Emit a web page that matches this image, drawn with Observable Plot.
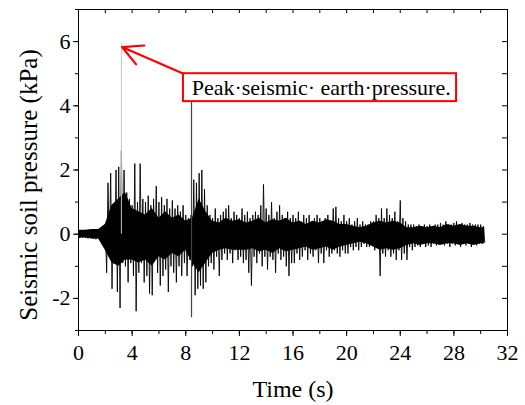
<!DOCTYPE html>
<html><head><meta charset="utf-8">
<script src="https://cdn.jsdelivr.net/npm/d3@7"></script>
<script src="https://cdn.jsdelivr.net/npm/@observablehq/plot@0.6"></script>
<style>html,body{margin:0;padding:0;background:#fff;}</style>
</head><body><div id="chart"></div>
<script>
// Seismic soil pressure record (kPa), sampled every 0.1 s from t = 0 s
const sampleInterval = 0.1;
const pressure = [
  0.10,-0.12,0.08,-0.10,0.12,-0.11,0.09,-0.13,0.11,-0.10,
  0.14,-0.15,0.12,-0.16,0.15,-0.14,0.17,-0.15,0.16,-0.18,
  0.30,-1.20,1.60,-0.60,1.90,-1.70,0.90,-0.80,2.00,-1.80,
  2.10,-2.30,2.60,-0.90,2.00,-1.00,1.30,-1.50,1.10,-0.90,
  0.90,-1.30,2.20,-2.40,1.00,-1.20,2.20,-0.90,1.10,-1.50,
  1.00,-1.30,1.20,-1.85,0.90,-1.90,1.10,-0.80,1.50,-1.20,
  1.00,-1.60,1.15,-1.30,0.90,-1.10,1.10,-1.80,0.80,-1.00,
  1.05,-1.20,0.80,-1.50,0.90,-1.00,0.70,-1.30,0.90,-0.90,
  0.60,-1.30,0.50,-0.80,0.60,-1.00,1.70,-1.90,1.60,-1.70,
  1.90,-1.60,2.00,-1.70,1.40,-1.50,0.90,-1.00,0.60,-0.90,
  0.50,-1.10,0.80,-0.70,0.50,-1.30,0.60,-0.80,0.70,-0.60,
  0.80,-0.80,0.90,-0.60,0.50,-0.90,0.70,-0.50,0.60,-0.80,
  0.50,-0.70,0.80,-0.90,0.60,-0.80,0.70,-1.20,0.50,-1.60,
  0.60,-0.70,0.70,-0.90,0.60,-0.60,0.90,-1.00,1.55,-0.70,
  0.80,-1.10,0.60,-0.70,1.00,-0.80,0.50,-1.20,0.70,-0.60,
  0.90,-0.80,0.60,-0.70,0.50,-1.00,0.70,-1.30,0.50,-0.90,
  0.60,-0.90,0.50,-0.60,0.70,-0.80,0.40,-0.70,0.60,-0.50,
  0.50,-0.80,0.60,-0.60,0.40,-0.70,0.50,-0.50,0.60,-0.90,
  0.50,-0.60,0.40,-0.90,0.50,-0.50,0.60,-0.70,0.40,-0.60,
  0.80,-0.50,0.85,-0.60,0.50,-0.70,0.40,-0.50,0.60,-0.60,
  0.40,-0.60,0.50,-0.40,0.30,-0.50,0.40,-0.40,0.50,-0.50,
  0.30,-0.40,0.40,-0.30,0.30,-0.40,0.30,-0.40,0.40,-0.30,
  0.40,-0.50,0.60,-0.40,0.50,-1.30,0.80,-0.60,0.50,-0.70,
  0.80,-0.50,0.60,-0.70,0.50,-0.60,0.70,-0.80,0.40,-0.50,
  1.05,-0.80,0.50,-0.60,0.40,-0.80,0.30,-0.40,0.30,-0.50,
  0.30,-0.40,0.25,-0.35,0.30,-0.40,0.25,-0.30,0.30,-0.40,
  0.25,-0.35,0.30,-0.40,0.25,-0.30,0.30,-0.35,0.30,-0.30,
  0.35,-0.30,0.30,-0.35,0.40,-0.30,0.30,-0.40,0.30,-0.30,
  0.35,-0.35,0.40,-0.30,0.30,-0.40,0.35,-0.30,0.30,-0.35,
  0.30,-0.30,0.35,-0.40,0.30,-0.30,0.30,-0.35,0.30,-0.30,
  0.30,-0.30,0.25,-0.25
];

// Dense core of the record (solid black band), every 0.5 s
const coreTime  = [0,0.5,1,1.5,2,2.5,3,3.5,4,4.5,5,5.5,6,6.5,7,7.5,8,8.5,9,9.5,10,10.5,11,11.5,12,12.5,13,13.5,14,14.5,15,15.5,16,16.5,17,17.5,18,18.5,19,19.5,20,20.5,21,21.5,22,22.5,23,23.5,24,24.5,25,25.5,26,26.5,27,27.5,28,28.5,29,29.5,30,30.3];
const coreUpper = [0.12,0.12,0.15,0.15,0.3,0.9,1.1,1.3,0.8,0.7,0.6,0.8,0.5,0.7,0.5,0.6,0.4,0.5,1.1,0.7,0.4,0.35,0.5,0.4,0.45,0.35,0.4,0.5,0.35,0.45,0.4,0.5,0.35,0.4,0.3,0.4,0.35,0.45,0.4,0.3,0.3,0.25,0.2,0.25,0.35,0.4,0.35,0.4,0.35,0.2,0.2,0.25,0.2,0.25,0.2,0.3,0.25,0.3,0.25,0.25,0.2,0.2];
const coreLower = [-0.12,-0.12,-0.15,-0.15,-0.5,-0.9,-1.0,-0.8,-0.8,-0.9,-0.8,-1.0,-0.7,-0.8,-0.6,-0.7,-0.5,-0.9,-1.2,-0.9,-0.6,-0.5,-0.45,-0.5,-0.5,-0.5,-0.45,-0.55,-0.5,-0.6,-0.45,-0.55,-0.5,-0.45,-0.4,-0.5,-0.45,-0.4,-0.5,-0.4,-0.35,-0.3,-0.25,-0.3,-0.4,-0.5,-0.45,-0.5,-0.45,-0.35,-0.3,-0.35,-0.3,-0.3,-0.35,-0.3,-0.3,-0.35,-0.3,-0.35,-0.3,-0.3];

// Isolated single-sample spikes
const peakTime = [3.2];   const peakTop = [5.95];  const peakBottom = [0];
const spikeTime = [8.43]; const spikeTop = [4.15]; const spikeBottom = [-2.6];

// Axes
const xTicks = [0,4,8,12,16,20,24,28,32];
const xMinorTicks = [0,2,4,6,8,10,12,14,16,18,20,22,24,26,28,30,32];
const yTicks = [-2,0,2,4,6];
const yMinorTicks = [-3,-2,-1,0,1,2,3,4,5,6,7];
const xLabel = "Time (s)";
const yLabel = "Seismic soil pressure (kPa)";

// Annotation
const annotationText = "Peak·seismic· earth·pressure.";
const annotationAt = [18.1, 4.56];
const boxX = [7.83, 28.2];
const boxY = [4.13, 5.0];
const arrowFrom = [7.83, 5.0];
const arrowTo = [3.25, 5.83];

const series = pressure.map((v, i) => ({t: +(i * sampleInterval).toFixed(2), v}));
const core = coreTime.map((t, i) => ({t, hi: coreUpper[i], lo: coreLower[i]}));
const peak = peakTime.map((t, i) => ({t, hi: peakTop[i], lo: peakBottom[i]}));
const spike = spikeTime.map((t, i) => ({t, hi: spikeTop[i], lo: spikeBottom[i]}));

const W = 525, H = 405, mL = 78, mR = 18, mT = 9, mB = 75;
const frameW = W - mL - mR, frameH = H - mT - mB;
const hyphenFormat = d => (d < 0 ? "-" + (-d) : String(d));

const chart = Plot.plot({
  width: W, height: H,
  marginLeft: mL, marginRight: mR, marginTop: mT, marginBottom: mB,
  style: {fontFamily: "'Liberation Serif','Times New Roman',serif", fontSize: "22px", background: "#fff", color: "#000"},
  x: {domain: [0, 32]},
  y: {domain: [-3, 7]},
  marks: [
    Plot.areaY(core, {x: "t", y1: "lo", y2: "hi", fill: "#000"}),
    Plot.line(series, {x: "t", y: "v", stroke: "#000", strokeWidth: 0.9}),
    Plot.ruleX(peak, {x: "t", y1: "lo", y2: "hi", stroke: "#c4c4c4", strokeWidth: 1}),
    Plot.ruleX(spike, {x: "t", y1: "lo", y2: "hi", stroke: "#444", strokeWidth: 1.2}),
    Plot.rect([{x1: boxX[0], x2: boxX[1], y1: boxY[0], y2: boxY[1]}], {x1: "x1", x2: "x2", y1: "y1", y2: "y2", fill: "#fff", stroke: "#ff0000", strokeWidth: 2}),
    Plot.text([annotationText], {x: annotationAt[0], y: annotationAt[1], fontSize: 22, fill: "#000"}),
    Plot.arrow([{x1: arrowFrom[0], y1: arrowFrom[1], x2: arrowTo[0], y2: arrowTo[1]}], {x1: "x1", y1: "y1", x2: "x2", y2: "y2", stroke: "#ff0000", strokeWidth: 2.2, headLength: 16, headAngle: 55}),
    Plot.frame({stroke: "#000", strokeWidth: 1}),
    Plot.axisX(xTicks, {tickSize: 6, tickPadding: 8, label: null}),
    Plot.axisX(xMinorTicks, {tickSize: 4, tickFormat: () => "", label: null}),
    Plot.axisY(yTicks, {tickSize: 5, tickPadding: 3, tickFormat: hyphenFormat, label: null}),
    Plot.axisY(yMinorTicks, {tickSize: 3, tickFormat: () => "", label: null}),
    Plot.tickX(xMinorTicks, {x: d => d, insetBottom: frameH - 4, stroke: "#000"}),
    Plot.tickY(yMinorTicks, {y: d => d, insetLeft: frameW - 5, stroke: "#000"}),
    Plot.text([xLabel], {frameAnchor: "bottom", lineAnchor: "middle", dy: 59, fontSize: 24}),
    Plot.text([yLabel], {frameAnchor: "left", textAnchor: "middle", lineAnchor: "middle", dx: -50, dy: 15, rotate: -90, fontSize: 25})
  ]
});
document.getElementById("chart").appendChild(chart);
</script>
</body></html>
